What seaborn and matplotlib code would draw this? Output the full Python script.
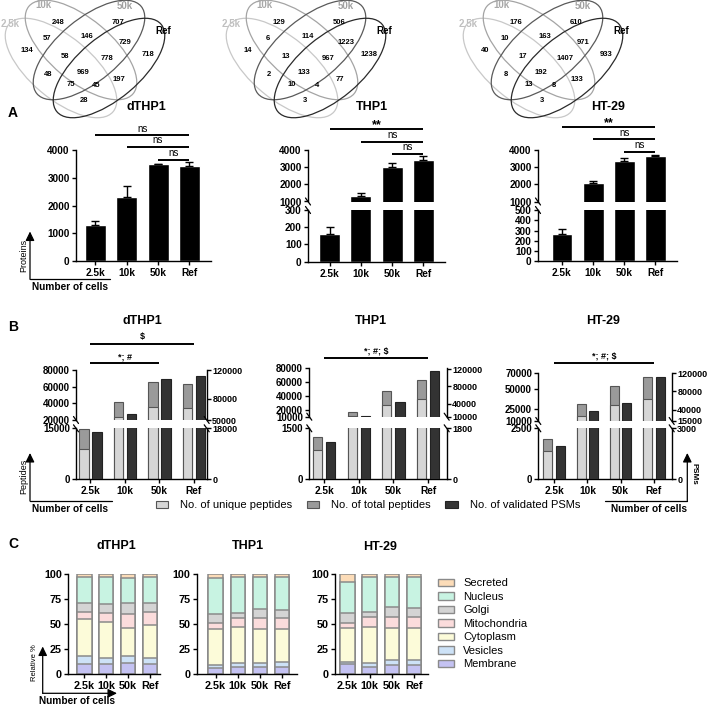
import numpy as np
import matplotlib
matplotlib.use('Agg')
import matplotlib.pyplot as plt
import matplotlib.transforms as mtransforms
from matplotlib.patches import Ellipse, Patch
import seaborn as sns

sns.set_theme(style='ticks')
plt.rcParams['font.family'] = ['Liberation Sans', 'DejaVu Sans']
plt.rcParams['font.weight'] = 'bold'
plt.rcParams['text.color'] = 'black'
plt.rcParams['axes.labelcolor'] = 'black'
plt.rcParams['axes.linewidth'] = 1.0
plt.rcParams['axes.edgecolor'] = 'black'
plt.rcParams['xtick.color'] = 'black'
plt.rcParams['ytick.color'] = 'black'
plt.rcParams['xtick.major.size'] = 3
plt.rcParams['ytick.major.size'] = 3
plt.rcParams['xtick.major.width'] = 1.0
plt.rcParams['ytick.major.width'] = 1.0
plt.rcParams['xtick.major.pad'] = 2
plt.rcParams['ytick.major.pad'] = 1.5
plt.rcParams['xtick.labelsize'] = 7.3
plt.rcParams['ytick.labelsize'] = 7.2

# ---------------- data ----------------
cells = ['2.5k', '10k', '50k', 'Ref']
lines = ['dTHP1', 'THP1', 'HT-29']

# Venn counts, regions: B, C, AB, BC, CD, A, ABC, BCD, D, AC, ABCD, BD, ACD, ABD, AD
# (A = 2.5k, B = 10k, C = 50k, D = Ref)
venn_dthp1 = [248, 707, 57, 146, 729, 134, 58, 778, 718, 48, 969, 197, 75, 45, 28]
venn_thp1 = [129, 506, 6, 114, 1223, 14, 13, 967, 1238, 2, 133, 77, 10, 4, 3]
venn_ht29 = [176, 610, 10, 163, 971, 40, 17, 1407, 933, 8, 192, 133, 13, 8, 3]

# A: identified proteins (mean, sd)
prot_dthp1 = [1300, 2290, 3480, 3420]
prot_dthp1_sd = [140, 420, 30, 130]
prot_thp1 = [159, 1350, 2990, 3400]
prot_thp1_sd = [45, 120, 260, 280]
prot_ht29 = [266, 2090, 3360, 3660]
prot_ht29_sd = [50, 130, 150, 60]

# B: peptides / PSMs
uniq_dthp1 = [8800, 23200, 36000, 34800]
total_dthp1 = [14700, 42000, 65300, 62900]
psm_dthp1 = [16600, 58400, 106800, 111400]
uniq_thp1 = [858, 10500, 26700, 36300]
total_thp1 = [1234, 16300, 46700, 63400]
psm_thp1 = [1323, 11400, 44900, 114600]
uniq_ht29 = [1400, 16400, 30100, 37300]
total_ht29 = [1994, 30500, 53400, 64200]
psm_ht29 = [1985, 37900, 54300, 112000]

# C: relative % per compartment (rows: cells)
compartments = ['Membrane', 'Vesicles', 'Cytoplasm', 'Mitochondria', 'Golgi', 'Nucleus', 'Secreted']
loc_dthp1 = [[10, 8.3, 36.7, 7.7, 8.3, 26, 3],
             [10, 6.7, 35.3, 9, 9, 27, 3],
             [11.7, 6.6, 27.7, 14.3, 10.7, 25, 4],
             [10, 6.7, 32.6, 13.4, 8.3, 26, 3]]
loc_thp1 = [[6, 3.3, 36, 5.7, 9.3, 36, 3.7],
            [7, 4, 36, 9, 5, 36, 3],
            [7, 4, 34, 11, 9, 32, 3],
            [7, 5.7, 32.3, 11, 8.3, 32.7, 3]]
loc_ht29 = [[10.3, 1.7, 34, 5.7, 9.3, 31, 8],
            [7, 4, 36, 10, 5.7, 34.3, 3],
            [9.3, 5, 31.7, 11.7, 9.3, 30, 3],
            [9.3, 5, 31.7, 11, 9.7, 30.3, 3]]

# ---------------- styles / layout ----------------
comp_colors = ['#c4c2f2', '#cde2f7', '#fcfbd9', '#fbdcdc', '#d4d4d4', '#c8f3e2', '#fcdcb8']
c_total, c_uniq, c_psm = '#9a9a9a', '#d6d6d6', '#333333'

ell_centers = [(58, 68), (78, 50), (86, 50), (106, 68)]
ell_size = [(136, 62), (136, 62), (136, 62), (136, 62)]
ell_angles = [40, 40, -40, -40]
ell_colors = ['#c8c8c8', '#a4a4a4', '#5a5a5a', '#2a2a2a']
region_xy = [(54.7, 22.3), (115, 22.3), (44, 39), (84, 37), (122.5, 42.5), (24, 51), (62, 57),
             (103.7, 58.3), (145, 55), (45, 74), (80.3, 73), (115.7, 79.3), (67.7, 84.3),
             (92.7, 85.7), (80.8, 100.7)]
set_xy = [(7, 24), (40, 4.5), (122, 6), (160, 31)]
set_colors = ['#c0c0c0', '#a8a8a8', '#a0a0a0', 'black']
venn_x0 = [3, 224, 461]

W, H = 708, 705
fig = plt.figure(figsize=(W / 100, H / 100), dpi=100)
ov = fig.add_axes([0, 0, 1, 1], zorder=10)
ov.set_xlim(0, W)
ov.set_ylim(H, 0)
ov.axis('off')
ov.patch.set_visible(False)


def box(x0, y0, x1, y1):
    return fig.add_axes([x0 / W, 1 - y1 / H, (x1 - x0) / W, (y1 - y0) / H])


def spines(ax, left=False, right=False, bottom=False):
    ax.spines['top'].set_visible(False)
    ax.spines['left'].set_visible(left)
    ax.spines['right'].set_visible(right)
    ax.spines['bottom'].set_visible(bottom)
    ax.set_xlabel('')
    ax.set_ylabel('')


def txt(x, y, s, size=7, weight='bold', **kw):
    kw.setdefault('ha', 'center')
    kw.setdefault('va', 'center')
    ov.text(x, y, s, fontsize=size, fontweight=weight, **kw)


def sig(ax, i0, i1, y, label, ty, size=7, weight='normal'):
    tr = mtransforms.blended_transform_factory(ax.transData, ov.transData)
    ov.plot([i0, i1], [y, y], color='black', lw=1.4, transform=tr, solid_capstyle='butt')
    ov.text((i0 + i1) / 2, ty, label, transform=tr, ha='center', va='center',
            fontsize=size, fontweight=weight)


def brk(x, y):
    ov.plot([x - 2.5, x + 2.5], [y - 3.5, y + 3.5], color='black', lw=0.9)


def arrow(x0, y0, x1, y1):
    ov.annotate('', xy=(x1, y1), xytext=(x0, y0),
                arrowprops=dict(arrowstyle='-|>,head_length=0.45,head_width=0.22',
                                lw=0.9, color='black', shrinkA=0, shrinkB=0))


def hline(x0, x1, y):
    ov.plot([x0, x1], [y, y], color='black', lw=0.9)


# ---------------- Venn diagrams ----------------
for x0, counts in zip(venn_x0, [venn_dthp1, venn_thp1, venn_ht29]):
    for (cx, cy), (w, h), ang, col in zip(ell_centers, ell_size, ell_angles, ell_colors):
        ov.add_patch(Ellipse((x0 + cx, cy), w, h, angle=ang, fill=False, edgecolor=col, lw=0.9))
    for (rx, ry), n in zip(region_xy, counts):
        txt(x0 + rx, ry, str(n), size=5.5)
    for (sx, sy), name, col in zip(set_xy, cells, set_colors):
        txt(x0 + sx, sy, name, size=7, color=col)

# ---------------- panel A ----------------
a_specs = [
    ([(76, 150, 211, 261, (0, 4000), [0, 1000, 2000, 3000, 4000])], (-0.62, 3.69)),
    ([(308, 150.2, 445, 201.5, (1000, 4000), [1000, 2000, 3000, 4000]),
      (308, 210, 445, 261.7, (0, 300), [0, 100, 200, 300])], (-0.69, 3.69)),
    ([(538, 150, 677, 201.5, (1000, 4000), [1000, 2000, 3000, 4000]),
      (538, 210, 677, 261.3, (0, 500), [0, 100, 200, 300, 400, 500])], (-0.77, 3.69)),
]
a_sig = [
    [(0, 3, 135, 'ns', 128.5), (1, 3, 146.7, 'ns', 140), (2, 3, 160, 'ns', 153.5)],
    [(0, 3, 129, '**', 125.5), (1, 3, 141.7, 'ns', 135), (2, 3, 154.3, 'ns', 147.5)],
    [(0, 3, 127, '**', 123.5), (1, 3, 139, 'ns', 132.5), (2, 3, 151.7, 'ns', 145)],
]
a_titles = [(146, 107), (372, 107), (608, 107)]
prot_means = [prot_dthp1, prot_thp1, prot_ht29]
prot_sds = [prot_dthp1_sd, prot_thp1_sd, prot_ht29_sd]

for (boxes, xlim), means, sds, sigs, (tx, ty), name in zip(a_specs, prot_means, prot_sds,
                                                          a_sig, a_titles, lines):
    axes = []
    for (x0, y0, x1, y1, lim, ticks) in boxes:
        ax = box(x0, y0, x1, y1)
        sns.barplot(x=cells, y=means, color='black', width=0.67, saturation=1,
                    errorbar=None, ax=ax)
        ax.errorbar(range(4), means, yerr=[np.zeros(4), sds], fmt='none', ecolor='black',
                    elinewidth=1, capsize=3, capthick=1)
        ax.set_ylim(*lim)
        ax.set_yticks(ticks, [str(t) for t in ticks])
        ax.set_xlim(*xlim)
        spines(ax, left=True, bottom=True)
        axes.append(ax)
    for ax in axes[:-1]:
        ax.spines['bottom'].set_visible(False)
        ax.tick_params(axis='x', bottom=False, labelbottom=False)
    if len(boxes) > 1:
        brk(boxes[0][0], boxes[0][3])
        brk(boxes[1][0], boxes[1][1])
    for i0, i1, y, lab, ly in sigs:
        if lab == '**':
            sig(axes[0], i0, i1, y, lab, ly, size=9, weight='bold')
        else:
            sig(axes[0], i0, i1, y, lab, ly)
    txt(tx, ty, name, size=9)

txt(13, 113, 'A', size=10)
txt(23.5, 255.5, 'Proteins', size=6.5, weight='normal', rotation=90)
arrow(30, 279.3, 30, 231.5)
hline(30, 110, 279.3)
txt(70, 287.5, 'Number of cells', size=7.3)

# ---------------- panel B ----------------
b_specs = [
    dict(x=(76, 206.7), up=(370, 420), lo=(428.3, 479.3), xlim=(-0.42, 3.37),
         lup=(20000, 80000), lupt=[20000, 40000, 60000, 80000],
         rup=(50000, 120000), rupt=[50000, 80000, 120000],
         llo=(0, 15000), rlo=(0, 18000)),
    dict(x=(309.3, 446.7), up=(368.3, 416.7), lo=(428.3, 479.3), xlim=(-0.43, 3.54),
         lup=(10000, 80000), lupt=[10000, 20000, 40000, 60000, 80000],
         rup=(10000, 122000), rupt=[10000, 40000, 80000, 120000],
         llo=(0, 1500), rlo=(0, 1800)),
    dict(x=(538.3, 671.7), up=(372.7, 421), lo=(428.3, 479.3), xlim=(-0.48, 3.54),
         lup=(10000, 70000), lupt=[10000, 25000, 50000, 70000],
         rup=(15000, 121000), rupt=[15000, 40000, 80000, 120000],
         llo=(0, 2500), rlo=(0, 3000)),
]
b_sig = [
    [(0, 3, 344.3, '$', 337), (0, 2, 363, '*; #', 357)],
    [(0, 3, 357.7, '*; #; $', 351)],
    [(0, 3, 363.3, '*; #; $', 356.5)],
]
b_titles = [(142, 321.5), (371, 321.5), (603, 321.5)]
b_data = [(uniq_dthp1, total_dthp1, psm_dthp1), (uniq_thp1, total_thp1, psm_thp1),
          (uniq_ht29, total_ht29, psm_ht29)]
pos = np.arange(4)

for spec, (uniq, total, psm), sigs, (tx, ty), name in zip(b_specs, b_data, b_sig, b_titles, lines):
    x0, x1 = spec['x']
    parts = [(spec['up'], spec['lup'], spec['lupt'], spec['rup'], spec['rupt']),
             (spec['lo'], spec['llo'], list(spec['llo']), spec['rlo'], list(spec['rlo']))]
    made = []
    for k, ((y0, y1), llim, lt, rlim, rt) in enumerate(parts):
        axl = box(x0, y0, x1, y1)
        axr = axl.twinx()
        sns.barplot(x=pos - 0.19, y=total, native_scale=True, width=0.27, color=c_total,
                    edgecolor='#555555', linewidth=0.8, saturation=1, errorbar=None, ax=axl)
        sns.barplot(x=pos - 0.19, y=uniq, native_scale=True, width=0.27, color=c_uniq,
                    edgecolor='#555555', linewidth=0.8, saturation=1, errorbar=None, ax=axl)
        sns.barplot(x=pos + 0.19, y=psm, native_scale=True, width=0.27, color=c_psm,
                    edgecolor='#222222', linewidth=0.8, saturation=1, errorbar=None, ax=axr)
        axl.set_ylim(*llim)
        axr.set_ylim(*rlim)
        axl.set_yticks(lt, [str(t) for t in lt])
        axr.set_yticks(rt, [str(t) for t in rt])
        axl.tick_params(axis='y', labelsize=7)
        axr.tick_params(axis='y', labelsize=6.5, pad=1)
        axl.set_xlim(*spec['xlim'])
        axl.set_xticks(pos, cells)
        spines(axl, left=True, bottom=(k == 1))
        spines(axr, right=True)
        if k == 0:
            axl.tick_params(axis='x', bottom=False, labelbottom=False)
        made.append(axl)
    brk(x0, spec['up'][1])
    brk(x0, spec['lo'][0])
    brk(x1, spec['up'][1])
    brk(x1, spec['lo'][0])
    for i0, i1, y, lab, ly in sigs:
        sig(made[0], i0, i1, y, lab, ly, size=6.5, weight='bold')
    txt(tx, ty, name, size=9)

txt(13, 327, 'B', size=10)
txt(23.5, 476.5, 'Peptides', size=6.5, weight='normal', rotation=90)
arrow(30, 501, 30, 453)
hline(30, 111.7, 501)
txt(70, 508.5, 'Number of cells', size=7.3)
txt(694, 473.5, 'PSMs', size=5.8, rotation=270)
arrow(687.3, 501, 687.3, 453)
hline(605, 687.3, 501)
txt(649, 508.5, 'Number of cells', size=7.3)

b_handles = [Patch(facecolor=c_uniq, edgecolor='#555555', lw=0.8),
             Patch(facecolor=c_total, edgecolor='#555555', lw=0.8),
             Patch(facecolor=c_psm, edgecolor='#222222', lw=0.8)]
fig.legend(b_handles, ['No. of unique peptides', 'No. of total peptides', 'No. of validated PSMs'],
           loc='center', bbox_to_anchor=(368 / W, 1 - 505 / H), ncol=3, frameon=False,
           prop={'size': 8, 'weight': 'normal'}, handlelength=1.1, handleheight=0.6,
           handletextpad=1.1, columnspacing=1.3, borderpad=0, borderaxespad=0)

# ---------------- panel C ----------------
c_specs = [(68.3, 160, (-0.74, 3.45)), (196.7, 297.3, (-0.85, 3.68)), (335, 428.3, (-0.56, 3.64))]
c_titles = [(116, 546), (248, 546), (380, 547.5)]
for (x0, x1, xlim), shares, (tx, ty), name in zip(c_specs, [loc_dthp1, loc_thp1, loc_ht29],
                                                  c_titles, lines):
    ax = box(x0, 574.3, x1, 674.3)
    tops = np.array(shares).cumsum(axis=1)
    for k in range(len(compartments) - 1, -1, -1):
        sns.barplot(x=cells, y=tops[:, k], color=comp_colors[k], width=0.65, saturation=1,
                    edgecolor='#8a8a8a', linewidth=1.1, errorbar=None, ax=ax)
    ax.set_ylim(0, 100)
    ax.set_yticks([0, 25, 50, 75, 100], ['0', '25', '50', '75', '100'])
    ax.set_xlim(*xlim)
    ax.tick_params(labelsize=7.8)
    spines(ax, left=True, bottom=True)
    txt(tx, ty, name, size=9)

txt(13, 544, 'C', size=10)
txt(35, 663, 'Relative %', size=5.5, weight='normal', rotation=90)
arrow(42.7, 693.3, 42.7, 646.5)
arrow(42.7, 693.3, 117, 693.3)
txt(77, 701, 'Number of cells', size=7.3)

c_handles = [Patch(facecolor=comp_colors[k], edgecolor='#8a8a8a', lw=1)
             for k in range(len(compartments) - 1, -1, -1)]
fig.legend(c_handles, compartments[::-1], loc='upper left',
           bbox_to_anchor=(438 / W, 1 - 578.5 / H), frameon=False,
           prop={'size': 8, 'weight': 'normal'}, handlelength=1.4, handleheight=0.65,
           handletextpad=0.85, labelspacing=0.31, borderpad=0, borderaxespad=0)

fig.savefig('out.png', dpi=100)
